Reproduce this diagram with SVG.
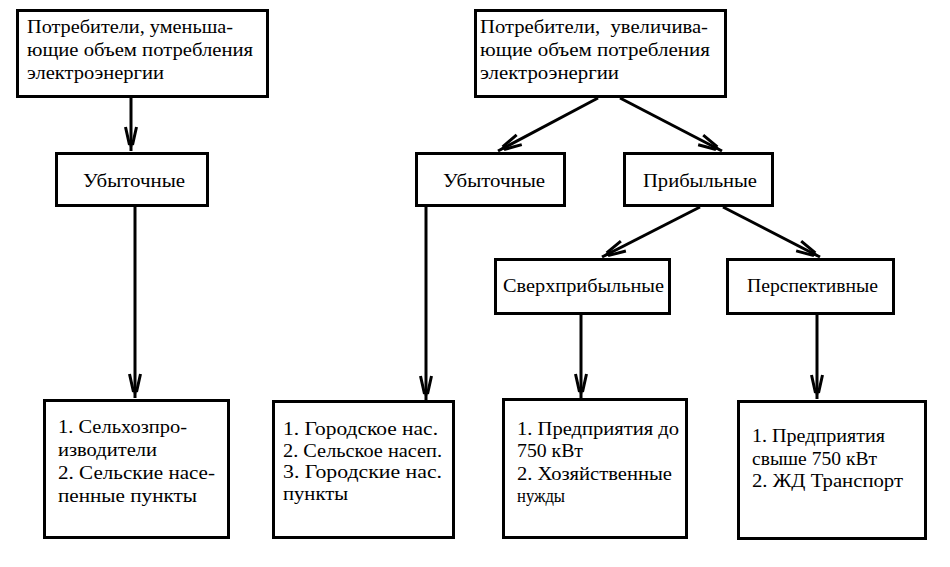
<svg xmlns="http://www.w3.org/2000/svg" width="950" height="567" viewBox="0 0 950 567">
<style>
.box{fill:#fff;stroke:#000;stroke-width:3}
.t{font-size:18px;fill:#000}
.c{stroke:#000;stroke-width:3;fill:none}
</style>
<defs>
<marker id="ah" markerUnits="userSpaceOnUse" orient="auto" markerWidth="30" markerHeight="20" refX="0" refY="0" style="overflow:visible">
<path d="M-24,-5.5 L-6,-1.5 M-24,5.5 L-6,1.5" stroke="#000" stroke-width="3" fill="none"/>
<path d="M-11,-3 L0,0 L-11,3 Z" fill="#000"/>
</marker>
</defs>
<rect width="950" height="567" fill="#fff"/>
<g id="connectors">
<line class="c" x1="131" y1="98" x2="131" y2="151" marker-end="url(#ah)"/>
<line class="c" x1="135" y1="207" x2="135" y2="398" marker-end="url(#ah)"/>
<line class="c" x1="598" y1="98" x2="498" y2="151" marker-end="url(#ah)"/>
<line class="c" x1="620" y1="98" x2="722" y2="151" marker-end="url(#ah)"/>
<line class="c" x1="426" y1="207" x2="426" y2="400" marker-end="url(#ah)"/>
<line class="c" x1="700" y1="207" x2="602" y2="257" marker-end="url(#ah)"/>
<line class="c" x1="723" y1="207" x2="820" y2="257" marker-end="url(#ah)"/>
<line class="c" x1="581" y1="315" x2="581" y2="398" marker-end="url(#ah)"/>
<line class="c" x1="817" y1="315" x2="817" y2="399" marker-end="url(#ah)"/>
</g>
<g font-family="'Liberation Serif', 'Times New Roman', serif">
<g id="n-dec">
<rect class="box" x="17.5" y="10.5" width="250" height="86"/>
<text class="t" x="27" y="33" textLength="206" lengthAdjust="spacingAndGlyphs">Потребители, уменьша-</text>
<text class="t" x="27" y="56" textLength="226" lengthAdjust="spacingAndGlyphs">ющие объем потребления</text>
<text class="t" x="27" y="79" textLength="137" lengthAdjust="spacingAndGlyphs">электроэнергии</text>
</g>
<g id="n-inc">
<rect class="box" x="475.5" y="10.5" width="250" height="86"/>
<text class="t" x="480" y="33" textLength="228" lengthAdjust="spacingAndGlyphs" xml:space="preserve" style="white-space:pre">Потребители,  увеличива-</text>
<text class="t" x="480" y="56" textLength="230" lengthAdjust="spacingAndGlyphs">ющие объем потребления</text>
<text class="t" x="480" y="79" textLength="139" lengthAdjust="spacingAndGlyphs">электроэнергии</text>
</g>
<g id="n-loss1">
<rect class="box" x="56.5" y="153.5" width="151" height="52"/>
<text class="t" x="83" y="187" textLength="102" lengthAdjust="spacingAndGlyphs">Убыточные</text>
</g>
<g id="n-loss2">
<rect class="box" x="416.5" y="153.5" width="148" height="52"/>
<text class="t" x="443" y="187" textLength="102" lengthAdjust="spacingAndGlyphs">Убыточные</text>
</g>
<g id="n-profit">
<rect class="box" x="624.5" y="153.5" width="148" height="52"/>
<text class="t" x="643" y="187" textLength="114" lengthAdjust="spacingAndGlyphs">Прибыльные</text>
</g>
<g id="n-super">
<rect class="box" x="495.5" y="259.5" width="174" height="54"/>
<text class="t" x="503" y="292" textLength="161" lengthAdjust="spacingAndGlyphs">Сверхприбыльные</text>
</g>
<g id="n-persp">
<rect class="box" x="727.5" y="259.5" width="166" height="54"/>
<text class="t" x="747" y="292" textLength="131" lengthAdjust="spacingAndGlyphs">Перспективные</text>
</g>
<g id="n-list1">
<rect class="box" x="44.5" y="400.5" width="184" height="137"/>
<text class="t" x="58" y="433" textLength="129" lengthAdjust="spacingAndGlyphs">1. Сельхозпро-</text>
<text class="t" x="58" y="456" textLength="99" lengthAdjust="spacingAndGlyphs">изводители</text>
<text class="t" x="58" y="479" textLength="157" lengthAdjust="spacingAndGlyphs">2. Сельские насе-</text>
<text class="t" x="58" y="502" textLength="139" lengthAdjust="spacingAndGlyphs">пенные пункты</text>
</g>
<g id="n-list2">
<rect class="box" x="273.5" y="401.5" width="180" height="136"/>
<text class="t" x="283" y="435" textLength="155" lengthAdjust="spacingAndGlyphs">1. Городское нас.</text>
<text class="t" x="283" y="457" textLength="159" lengthAdjust="spacingAndGlyphs">2. Сельское насеп.</text>
<text class="t" x="283" y="478" textLength="159" lengthAdjust="spacingAndGlyphs">3. Городские нас.</text>
<text class="t" x="283" y="500" textLength="65" lengthAdjust="spacingAndGlyphs">пункты</text>
</g>
<g id="n-list3">
<rect class="box" x="503.5" y="399.5" width="183" height="138"/>
<text class="t" x="517" y="435" textLength="162" lengthAdjust="spacingAndGlyphs">1. Предприятия до</text>
<text class="t" x="517" y="457" textLength="66" lengthAdjust="spacingAndGlyphs">750 кВт</text>
<text class="t" x="517" y="480" textLength="155" lengthAdjust="spacingAndGlyphs">2. Хозяйственные</text>
<text class="t" x="517" y="502" textLength="48" lengthAdjust="spacingAndGlyphs">нужды</text>
</g>
<g id="n-list4">
<rect class="box" x="738.5" y="401.5" width="187" height="137"/>
<text class="t" x="752" y="442" textLength="133" lengthAdjust="spacingAndGlyphs">1. Предприятия</text>
<text class="t" x="752" y="465" textLength="125" lengthAdjust="spacingAndGlyphs">свыше 750 кВт</text>
<text class="t" x="752" y="487" textLength="151" lengthAdjust="spacingAndGlyphs">2. ЖД Транспорт</text>
</g>
</g>
</svg>
